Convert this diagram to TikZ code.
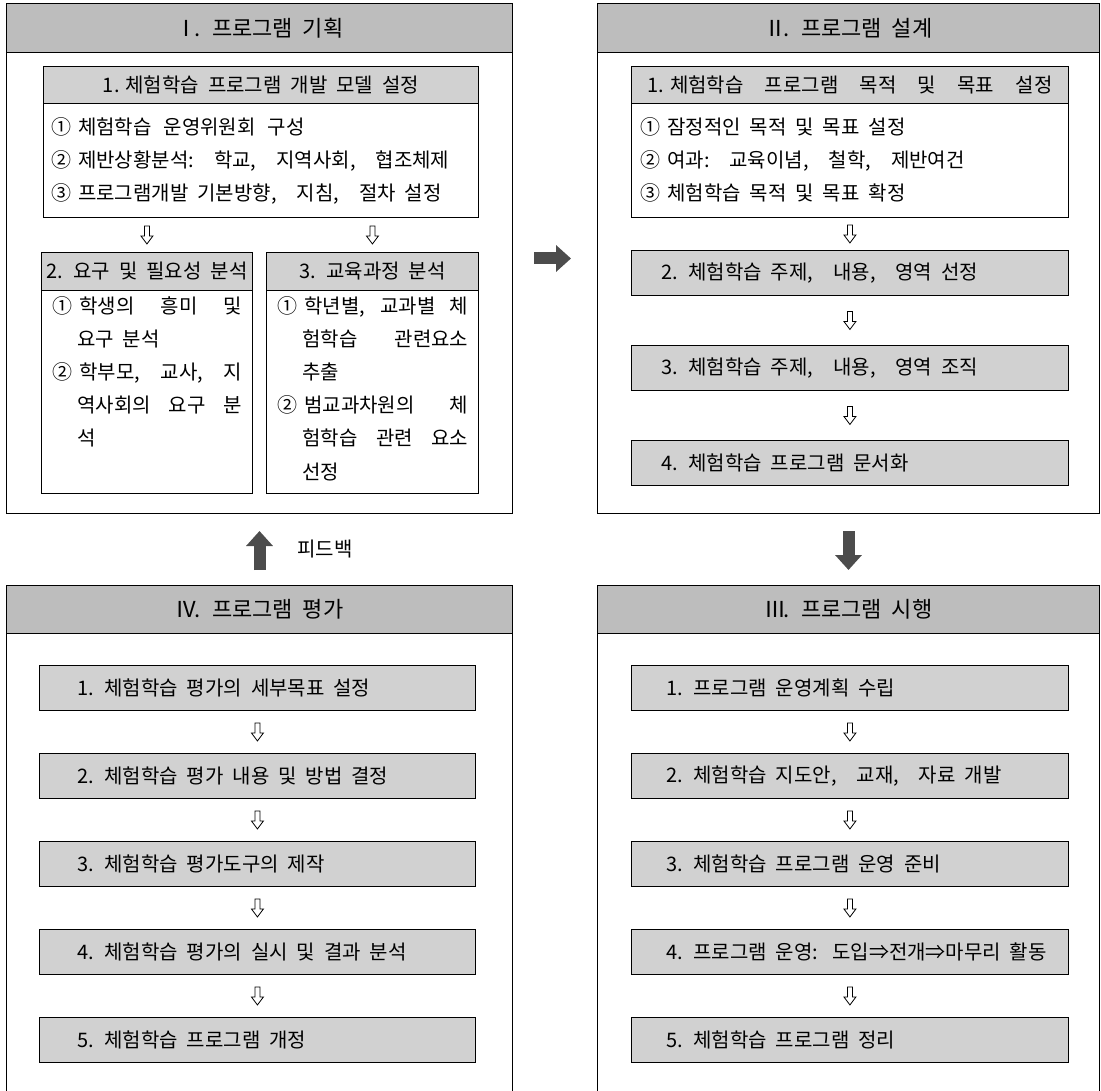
\documentclass[tikz,border=0pt]{standalone}
\usepackage{fontspec}
\setmainfont{Noto Sans CJK KR}[WordSpace=2.0]
\usetikzlibrary{arrows.meta}
\begin{document}
\begin{tikzpicture}[x=1pt,y=-1pt,
  panelbox/.style={draw=black, line width=1pt, anchor=north west, inner sep=0pt},
  panelhead/.style={draw=black, line width=1pt, fill=black!26, anchor=north west, inner sep=0pt, font=\fontsize{22}{24}\selectfont},
  subhead/.style={draw=black, line width=0.9pt, fill=black!18, anchor=north west, inner sep=0pt, font=\fontsize{20}{22}\selectfont},
  subbody/.style={draw=black, line width=0.9pt, anchor=north west, inner sep=0pt},
  stepbox/.style={draw=black, line width=0.9pt, fill=black!18, anchor=north west, inner sep=0pt, minimum height=45pt},
  steptext/.style={anchor=west, inner sep=0pt, font=\fontsize{20}{22}\selectfont},
  bodyline/.style={anchor=base west, inner sep=0pt, font=\fontsize{20}{22}\selectfont},
  hollowarr/.style={draw=black, line width=0.8pt, fill=white, line join=miter},
  bigarrow/.style={draw=black!70, line width=12pt, -{Triangle[width=26pt,length=15pt]}},
]
\useasboundingbox (0,0) rectangle (1101,1091);
\clip (0,0) rectangle (1101,1091);
\newcommand{\hdown}[1]{\draw[hollowarr] (#1) ++(-2.5,-9) -- ++(5,0) -- ++(0,10) -- ++(3.5,0) -- ++(-6,8) -- ++(-6,-8) -- ++(3.5,0) -- cycle;}
\newcommand{\cn}[1]{#1\hspace{7pt}}
\newcommand{\pc}[1]{#1\hspace{20pt}}
\newcommand{\rn}[1]{#1\kern-3pt.}

% ---------- Panel I ----------
\node[panelbox, minimum width=506pt, minimum height=510pt] (p1) at (6,3) {};
\node[panelhead, minimum width=506pt, minimum height=49pt] (h1) at (6,3) {\rn{Ⅰ} 프로그램 기획};
\node[subhead, minimum width=435pt, minimum height=37pt] (a1h) at (43,66) {1.\hspace{6pt}체험학습 프로그램 개발 모델 설정};
\node[subbody, minimum width=435pt, minimum height=114pt] (a1b) at (43,103) {};
\node[bodyline] (a1l1) at (51,135) {\cn{①}체험학습\hspace{12pt}운영위원회\hspace{12pt}구성};
\node[bodyline] (a1l2) at (51,168) {\cn{②}제반상황분석\pc{:}학교\pc{,}지역사회\pc{,}협조체제};
\node[bodyline] (a1l3) at (51,201) {\cn{③}프로그램개발 기본방향\pc{,}지침\pc{,}절차 설정};

\node[subhead, minimum width=211pt, minimum height=38pt] (a2h) at (41,252) {2. 요구 및 필요성 분석};
\node[subbody, minimum width=211pt, minimum height=203pt] (a2b) at (41,290) {};
\node[bodyline] (a2l1) at (52,314) {\makebox[190pt][s]{\cn{①}학생의 흥미 및}};
\node[bodyline] (a2l2) at (77,347) {요구 분석};
\node[bodyline] (a2l3) at (52,380) {\makebox[190pt][s]{\cn{②}학부모, 교사, 지}};
\node[bodyline] (a2l4) at (77,413) {\makebox[165pt][s]{역사회의 요구 분}};
\node[bodyline] (a2l5) at (77,446) {석};

\node[subhead, minimum width=212pt, minimum height=38pt] (a3h) at (266,252) {3. 교육과정 분석};
\node[subbody, minimum width=212pt, minimum height=203pt] (a3b) at (266,290) {};
\node[bodyline] (a3l1) at (277,314) {\makebox[191pt][s]{\cn{①}학년별, 교과별 체}};
\node[bodyline] (a3l2) at (302,347) {\makebox[166pt][s]{험학습 관련요소}};
\node[bodyline] (a3l3) at (302,380) {추출};
\node[bodyline] (a3l4) at (277,413) {\makebox[191pt][s]{\cn{②}범교과차원의 체}};
\node[bodyline] (a3l5) at (302,446) {\makebox[166pt][s]{험학습 관련 요소}};
\node[bodyline] (a3l6) at (302,479) {선정};

\path (a1b.south -| a2h.north) -- coordinate[midway] (ma2) (a2h.north);
\path (a1b.south -| a3h.north) -- coordinate[midway] (ma3) (a3h.north);
\hdown{ma2}
\hdown{ma3}

% ---------- Panel II ----------
\node[panelbox, minimum width=502pt, minimum height=510pt] (p2) at (597,3) {};
\node[panelhead, minimum width=502pt, minimum height=49pt] (h2) at (597,3) {\rn{Ⅱ} 프로그램 설계};
\node[subhead, minimum width=437pt, minimum height=37pt] (b1h) at (631,66) {\makebox[405pt][s]{1.\hspace{6pt}체험학습 프로그램 목적 및 목표 설정}};
\node[subbody, minimum width=437pt, minimum height=114pt] (b1b) at (631,103) {};
\node[bodyline] (b1l1) at (640,135) {\cn{①}잠정적인 목적 및 목표 설정};
\node[bodyline] (b1l2) at (640,168) {\cn{②}여과\pc{:}교육이념\pc{,}철학\pc{,}제반여건};
\node[bodyline] (b1l3) at (640,201) {\cn{③}체험학습 목적 및 목표 확정};
\node[stepbox, minimum width=437pt] (b2) at (631,250) {};
\node[steptext] (b2t) at ([xshift=30pt]b2.west) {2. 체험학습 주제\pc{,}내용\pc{,}영역 선정};
\node[stepbox, minimum width=437pt] (b3) at (631,345) {};
\node[steptext] (b3t) at ([xshift=30pt]b3.west) {3. 체험학습 주제\pc{,}내용\pc{,}영역 조직};
\node[stepbox, minimum width=437pt] (b4) at (631,440) {};
\node[steptext] (b4t) at ([xshift=30pt]b4.west) {4. 체험학습 프로그램 문서화};
\path (b1b.south) -- coordinate[midway] (mb2) (b2.north);
\path (b2.south) -- coordinate[midway] (mb3) (b3.north);
\path (b3.south) -- coordinate[midway] (mb4) (b4.north);
\hdown{mb2}
\hdown{mb3}
\hdown{mb4}

% ---------- Panel III ----------
\node[panelbox, minimum width=502pt, minimum height=530pt] (p3) at (597,585) {};
\node[panelhead, minimum width=502pt, minimum height=48pt] (h3) at (597,585) {\rn{Ⅲ} 프로그램 시행};
\node[stepbox, minimum width=437pt] (c1) at (631,665) {};
\node[steptext] (c1t) at ([xshift=35pt]c1.west) {1. 프로그램 운영계획 수립};
\node[stepbox, minimum width=437pt] (c2) at (631,753) {};
\node[steptext] (c2t) at ([xshift=35pt]c2.west) {2. 체험학습 지도안\pc{,}교재\pc{,}자료 개발};
\node[stepbox, minimum width=437pt] (c3) at (631,841) {};
\node[steptext] (c3t) at ([xshift=35pt]c3.west) {3. 체험학습 프로그램 운영 준비};
\node[stepbox, minimum width=437pt] (c4) at (631,929) {};
\node[steptext] (c4t) at ([xshift=35pt]c4.west) {4. 프로그램 운영:\hspace{14pt}도입⇒전개⇒마무리 활동};
\node[stepbox, minimum width=437pt] (c5) at (631,1017) {};
\node[steptext] (c5t) at ([xshift=35pt]c5.west) {5. 체험학습 프로그램 정리};
\path (c1.south) -- coordinate[midway] (mc2) (c2.north);
\path (c2.south) -- coordinate[midway] (mc3) (c3.north);
\path (c3.south) -- coordinate[midway] (mc4) (c4.north);
\path (c4.south) -- coordinate[midway] (mc5) (c5.north);
\hdown{mc2}
\hdown{mc3}
\hdown{mc4}
\hdown{mc5}

% ---------- Panel IV ----------
\node[panelbox, minimum width=506pt, minimum height=530pt] (p4) at (6,585) {};
\node[panelhead, minimum width=506pt, minimum height=48pt] (h4) at (6,585) {\rn{Ⅳ} 프로그램 평가};
\node[stepbox, minimum width=436pt] (d1) at (39,665) {};
\node[steptext] (d1t) at ([xshift=38pt]d1.west) {1. 체험학습 평가의 세부목표 설정};
\node[stepbox, minimum width=436pt] (d2) at (39,753) {};
\node[steptext] (d2t) at ([xshift=38pt]d2.west) {2. 체험학습 평가 내용 및 방법 결정};
\node[stepbox, minimum width=436pt] (d3) at (39,841) {};
\node[steptext] (d3t) at ([xshift=38pt]d3.west) {3. 체험학습 평가도구의 제작};
\node[stepbox, minimum width=436pt] (d4) at (39,929) {};
\node[steptext] (d4t) at ([xshift=38pt]d4.west) {4. 체험학습 평가의 실시 및 결과 분석};
\node[stepbox, minimum width=436pt] (d5) at (39,1017) {};
\node[steptext] (d5t) at ([xshift=38pt]d5.west) {5. 체험학습 프로그램 개정};
\path (d1.south) -- coordinate[midway] (md2) (d2.north);
\path (d2.south) -- coordinate[midway] (md3) (d3.north);
\path (d3.south) -- coordinate[midway] (md4) (d4.north);
\path (d4.south) -- coordinate[midway] (md5) (d5.north);
\hdown{md2}
\hdown{md3}
\hdown{md4}
\hdown{md5}

% ---------- Big arrows ----------
\draw[bigarrow, shorten <=21pt, shorten >=26pt] (p1.east) -- (p2.west);
\draw[bigarrow, shorten <=17pt, shorten >=15pt] (p2.south) -- (p3.north);
\draw[bigarrow, shorten <=15pt, shorten >=17pt] (p4.north) -- (p1.south)
  node[midway, anchor=west, xshift=32pt, inner sep=0pt, font=\fontsize{20}{22}\selectfont, text=black] (fb) {피드백};
\end{tikzpicture}
\end{document}
